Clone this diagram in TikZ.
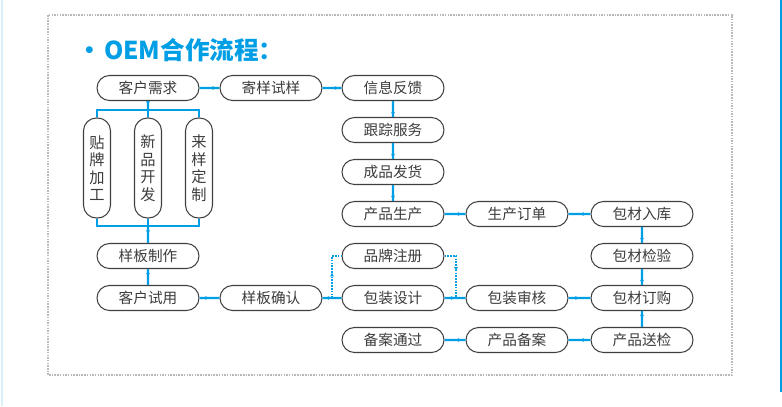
\documentclass[tikz,border=0pt]{standalone}
\usepackage{fontspec}
\usepackage{tikz}
\usetikzlibrary{positioning, shapes.misc, arrows.meta, decorations.markings, calc}
\newfontfamily\cjk{Noto Sans CJK SC}
\definecolor{OemBlue}{RGB}{0, 158, 228}
\definecolor{FrameGray}{RGB}{185, 185, 185}
\definecolor{TextGray}{RGB}{60, 60, 60}

\begin{document}
\begin{tikzpicture}[x=0.03cm, y=-0.03cm,
    stage/.style={rounded rectangle, draw=black!75, line width=0.9pt, fill=white,
      minimum width=3.06cm, minimum height=0.75cm, inner sep=0pt,
      font=\cjk\fontsize{12.5}{14}\selectfont, text=TextGray},
    option/.style={rectangle, rounded corners=11pt, draw=black!75, line width=0.9pt,
      minimum width=0.81cm, minimum height=3cm, inner sep=0pt, align=center,
      font=\cjk\fontsize{13}{15}\selectfont, text=TextGray},
    link/.style={draw=OemBlue, line width=1.8pt},
    flow/.style={link, postaction={decorate},
      decoration={markings, mark=at position 0.5 with {\arrow{Latex[length=3.5pt,width=3.5pt]}}}},
    dotflow/.style={draw=OemBlue, line width=1.4pt, densely dotted, postaction={decorate},
      decoration={markings, mark=at position 0.5 with {\arrow[solid]{Latex[length=3.5pt,width=3.5pt]}}}}]
    \useasboundingbox (0,0) rectangle (782,406);

    % Page edges and frame
    \draw[OemBlue, line width=1.5pt] (781,0) -- (781,392);
    \draw[OemBlue!15, line width=1pt] (2,0) -- (2,406);
    \draw[FrameGray, line width=1.3pt, densely dotted] (48,15) rectangle (732,375);

    % Title
    \node[anchor=west, text=OemBlue, font=\cjk\bfseries\fontsize{21}{24}\selectfont] (title) at (73,50) {•\kern2pt OEM合作流程：};

    % Top row
    \node[stage] (kehu) at (148,88) {客户需求};
    \node[stage] (jiyang) at (271,88) {寄样试样};
    \node[stage] (xinxi) at (393,88) {信息反馈};

    % Three options
    \node[option] (tiepai) at (97,168) {贴\\牌\\加\\工};
    \node[option] (xinpin) at (148,168) {新\\品\\开\\发};
    \node[option] (laiyang) at (199,168) {来\\样\\定\\制};

    % Middle column
    \node[stage] (genzong) at (393,130) {跟踪服务};
    \node[stage] (chengpin) at (393,172) {成品发货};
    \node[stage] (shengchan) at (393,214) {产品生产};
    \node[stage] (dingdan) at (517,214) {生产订单};
    \node[stage] (ruku) at (642,214) {包材入库};

    \node[stage] (zhizuo) at (148,256) {样板制作};
    \node[stage] (pinpai) at (393,256) {品牌注册};
    \node[stage] (jianyan) at (642,256) {包材检验};

    \node[stage] (shiyong) at (148,298) {客户试用};
    \node[stage] (queren) at (271,298) {样板确认};
    \node[stage] (sheji) at (393,298) {包装设计};
    \node[stage] (shenhe) at (517,298) {包装审核};
    \node[stage] (dinggou) at (642,298) {包材订购};

    \node[stage] (tongguo) at (393,340) {备案通过};
    \node[stage] (beian) at (517,340) {产品备案};
    \node[stage] (songjian) at (642,340) {产品送检};

    % Bus lines round the options
    \coordinate (busTop) at (148,110);
    \coordinate (busBot) at (148,226);
    \draw[flow] (kehu) -- (busTop);
    \draw[link] (tiepai.north) |- (busTop) -| (laiyang.north);
    \draw[link] (xinpin.north) -- (busTop);
    \draw[link] (tiepai.south) |- (busBot) -| (laiyang.south);
    \draw[link] (xinpin.south) -- (busBot);
    \draw[flow] (busBot) -- (zhizuo);

    % Main flow
    \draw[flow] (zhizuo) -- (shiyong);
    \draw[flow] (shiyong) -- (queren);
    \draw[flow] (queren) -- (sheji);
    \draw[flow] (sheji) -- (shenhe);
    \draw[flow] (shenhe) -- (dinggou);
    \draw[flow] (dinggou) -- (jianyan);
    \draw[flow] (jianyan) -- (ruku);
    \draw[flow] (ruku) -- (dingdan);
    \draw[flow] (dingdan) -- (shengchan);
    \draw[flow] (shengchan) -- (chengpin);
    \draw[flow] (chengpin) -- (genzong);
    \draw[flow] (genzong) -- (xinxi);
    \draw[flow] (xinxi) -- (jiyang);
    \draw[flow] (jiyang) -- (kehu);

    % Filing branch
    \draw[flow] (dinggou) -- (songjian);
    \draw[flow] (songjian) -- (beian);
    \draw[flow] (beian) -- (tongguo);

    % Brand registration (dotted)
    \coordinate (splitA) at (332,298);
    \coordinate (splitB) at (456,298);
    \draw[dotflow] (splitA) |- (pinpai);
    \draw[dotflow] (pinpai) -| (splitB);
  \end{tikzpicture}
\end{document}
